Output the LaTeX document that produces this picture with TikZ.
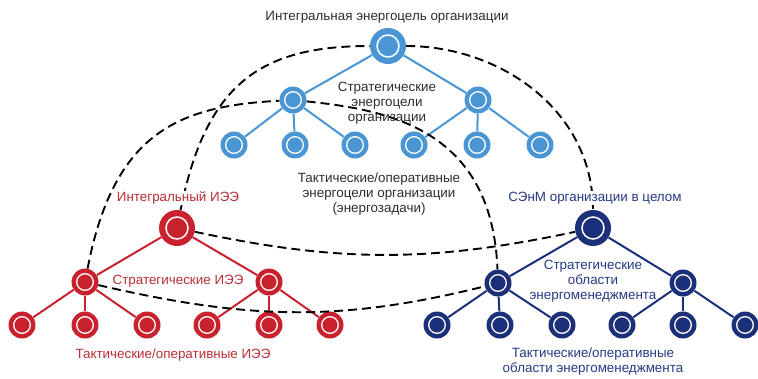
\documentclass[tikz,border=0pt]{standalone}
\usepackage{fontspec}
\setmainfont{Liberation Sans}
\definecolor{lb}{RGB}{74,150,212}
\definecolor{rd}{RGB}{200,34,46}
\definecolor{nv}{RGB}{28,48,122}
\definecolor{rdt}{RGB}{185,45,55}
\definecolor{nvt}{RGB}{38,58,132}
\definecolor{txt}{RGB}{45,45,45}
\begin{document}
\begin{tikzpicture}[x=1pt,y=1pt,
  big/.style={circle,fill=#1,minimum size=36pt,inner sep=0pt,
    path picture={\draw[white,line width=1.5pt] (path picture bounding box.center) circle (11pt);}},
  small/.style={circle,fill=#1,minimum size=27pt,inner sep=0pt,
    path picture={\draw[white,line width=1.3pt] (path picture bounding box.center) circle (8.3pt);}},
  tedge/.style={draw=#1,line width=2pt},
  dline/.style={draw=black,line width=1.9pt,dash pattern=on 9pt off 5pt},
  lbl/.style={font=\fontsize{13.4}{15}\selectfont,align=center,inner sep=1pt}]
\useasboundingbox (0,0) rectangle (758,-378);
\clip (0,0) rectangle (758,-378);
% blue tree
\node[big=lb] (b0) at (388,-46) {};
\node[small=lb] (b1) at (293,-100) {};
\node[small=lb] (b2) at (478,-100) {};
\node[small=lb] (b11) at (234,-145) {};
\node[small=lb] (b12) at (295,-145) {};
\node[small=lb] (b13) at (355,-145) {};
\node[small=lb] (b21) at (414,-145) {};
\node[small=lb] (b22) at (477,-145) {};
\node[small=lb] (b23) at (540,-145) {};
% red tree
\node[big=rd] (r0) at (177,-228) {};
\node[small=rd] (r1) at (85,-282) {};
\node[small=rd] (r2) at (269,-282) {};
\node[small=rd] (r11) at (22,-325) {};
\node[small=rd] (r12) at (85,-325) {};
\node[small=rd] (r13) at (147,-325) {};
\node[small=rd] (r21) at (207,-325) {};
\node[small=rd] (r22) at (269,-325) {};
\node[small=rd] (r23) at (330,-325) {};
% navy tree
\node[big=nv] (n0) at (593,-228) {};
\node[small=nv] (n1) at (498,-283) {};
\node[small=nv] (n2) at (683,-283) {};
\node[small=nv] (n11) at (437,-325) {};
\node[small=nv] (n12) at (500,-325) {};
\node[small=nv] (n13) at (562,-325) {};
\node[small=nv] (n21) at (622,-325) {};
\node[small=nv] (n22) at (683,-325) {};
\node[small=nv] (n23) at (745,-325) {};
% tree edges
\foreach \a/\b in {b0/b1,b0/b2,b1/b11,b1/b12,b1/b13,b2/b21,b2/b22,b2/b23}
  \draw[tedge=lb] (\a) -- (\b);
\foreach \a/\b in {r0/r1,r0/r2,r1/r11,r1/r12,r1/r13,r2/r21,r2/r22,r2/r23}
  \draw[tedge=rd] (\a) -- (\b);
\foreach \a/\b in {n0/n1,n0/n2,n1/n11,n1/n12,n1/n13,n2/n21,n2/n22,n2/n23}
  \draw[tedge=nv] (\a) -- (\b);
% dashed links: integral level
\draw[dline] (r0) .. controls (206,-83) and (261,-46) .. (b0);
\draw[dline] (b0) .. controls (501,-46) and (593,-111) .. (n0);
% dashed links: strategic level
\draw[dline] (r1) .. controls (114,-131) and (180,-106) .. (b1);
\draw[dline] (b1) .. controls (390,-110) and (492,-130) .. (n1);
% direct links
\draw[dline] (r0) to[out=-12,in=192] (n0);
\draw[dline] (r1) to[out=-13,in=194] (n1);
% labels
\node[lbl,text=txt] (tb0) at (387,-17) {Интегральная энергоцель организации};
\node[lbl,text=txt] (tb1) at (387,-103) {Стратегические\\энергоцели\\организации};
\node[lbl,text=txt] (tb2) at (379,-194) {Тактические/оперативные\\энергоцели организации\\(энергозадачи)};
\node[lbl,text=rdt,fill=white] (tr0) at (178,-198) {Интегральный ИЭЭ};
\node[lbl,text=rdt] (tr1) at (178,-281) {Стратегические ИЭЭ};
\node[lbl,text=rdt] (tr2) at (173,-355) {Тактические/оперативные ИЭЭ};
\node[lbl,text=nvt,fill=white] (tn0) at (595,-198) {СЭнМ организации в целом};
\node[lbl,text=nvt] (tn1) at (593,-281) {Стратегические\\области\\энергоменеджмента};
\node[lbl,text=nvt] (tn2) at (593,-362) {Тактические/оперативные\\области энергоменеджмента};
\end{tikzpicture}
\end{document}
